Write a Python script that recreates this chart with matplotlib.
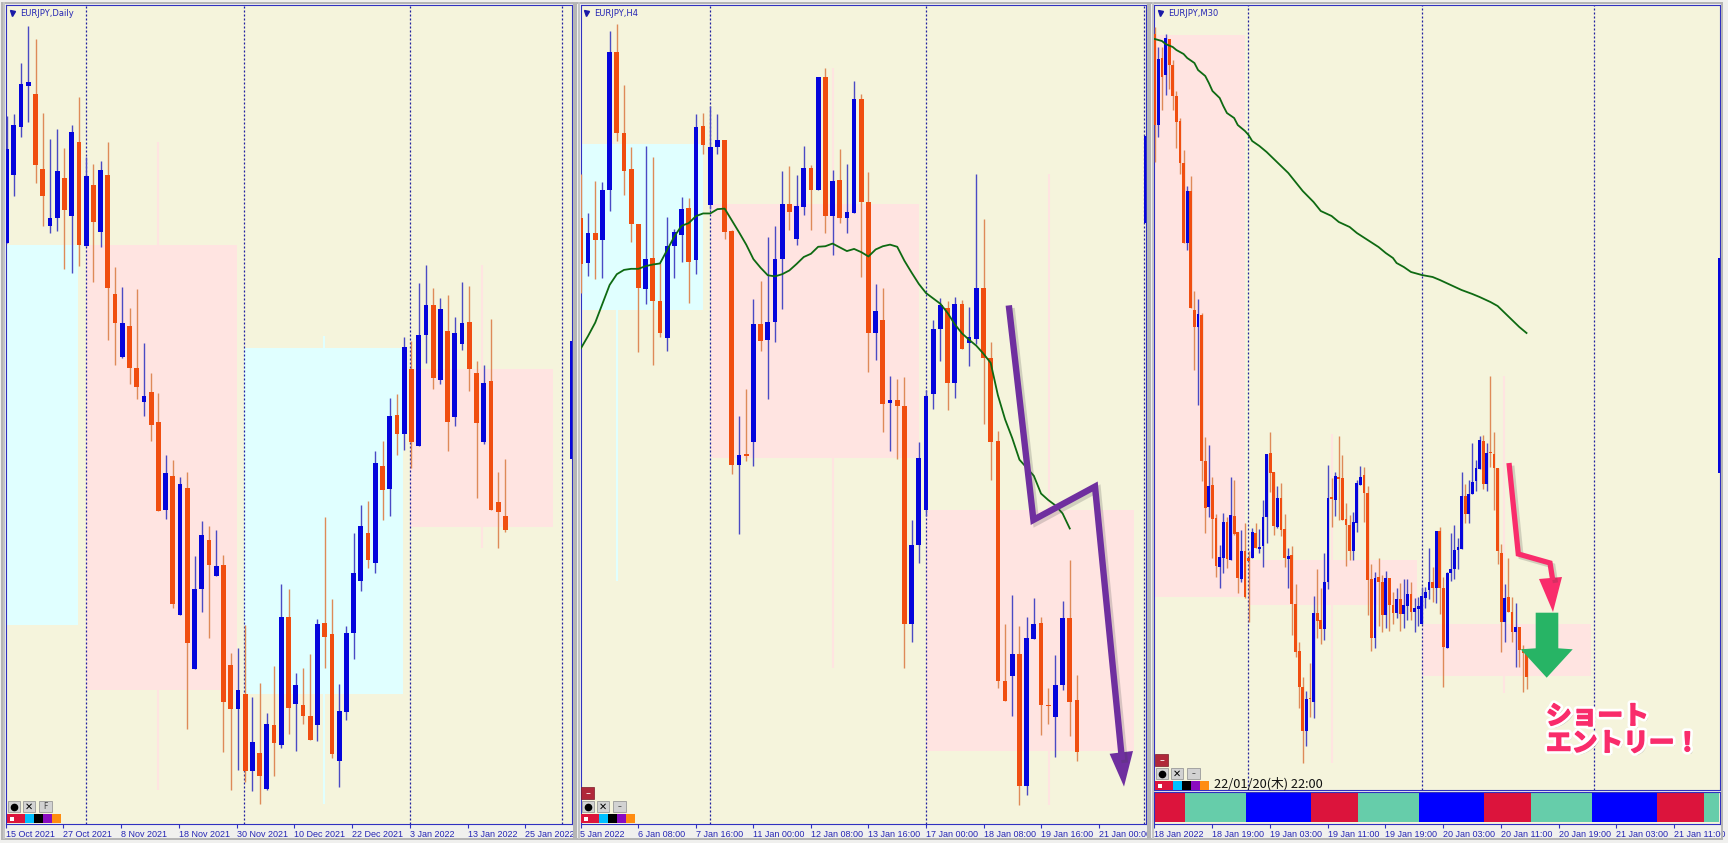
"""EURJPY multi-timeframe chart (Daily / H4 / M30) with short entry markup."""

import matplotlib
matplotlib.use("Agg")
import matplotlib.pyplot as plt
import matplotlib.patheffects as pe
from matplotlib.patches import Rectangle, Polygon

plt.rcParams['font.family'] = ['DejaVu Sans', 'Noto Sans CJK JP']

W, H = 1728, 843

# ── Daily ─────────────────────────────────────────────
d_open = [452, 326, 237, 160, 175, 314, 420, 406, 332, 402, 264, 458, 344, 432, 325, 546, 664, 606, 684, 748,
          730, 785, 949, 885, 1143, 908, 1244, 1096, 1004, 1071, 1051, 1237, 1319, 1291, 1434, 1400, 1468, 1349, 1386, 1147,
          1310, 1312, 1331, 1349, 1159, 1180, 1415, 1325, 1177, 1081, 991, 1047, 867, 910, 772, 808, 686, 830, 624, 568,
          707, 615, 775, 639, 598, 693, 823, 709, 933, 960]
d_close = [277, 233, 157, 153, 306, 365, 405, 318, 390, 245, 455, 327, 413, 316, 536, 601, 600, 685, 720, 736,
           790, 950, 880, 1124, 900, 1196, 1095, 996, 1051, 1053, 1305, 1319, 1283, 1434, 1381, 1443, 1347, 1382, 1147, 1317,
           1274, 1332, 1377, 1160, 1185, 1402, 1322, 1177, 1065, 978, 1041, 862, 912, 773, 808, 646, 822, 623, 568, 703,
           574, 785, 620, 600, 687, 787, 712, 948, 953, 985]
d_high = [215, 212, 117, 48, 73, 210, 258, 240, 275, 233, 180, 292, 305, 300, 265, 497, 533, 572, 538, 638,
          693, 731, 847, 856, 887, 877, 1034, 969, 978, 986, 1032, 1214, 1205, 1162, 1296, 1270, 1327, 1238, 1086, 1095,
          1252, 1242, 1216, 1151, 961, 1114, 1273, 1165, 992, 939, 932, 838, 820, 740, 733, 626, 635, 527, 493, 536,
          554, 549, 590, 524, 532, 671, 678, 594, 877, 854]
d_low = [452, 365, 254, 226, 340, 420, 433, 430, 500, 507, 495, 458, 525, 460, 633, 678, 665, 714, 743, 773,
         820, 950, 966, 1130, 1143, 1355, 1244, 1138, 1187, 1071, 1398, 1470, 1433, 1455, 1472, 1495, 1470, 1443, 1392, 1365,
         1396, 1347, 1377, 1379, 1243, 1409, 1464, 1339, 1225, 1100, 1057, 1066, 968, 959, 846, 837, 870, 830, 676, 724,
         714, 838, 792, 651, 727, 927, 825, 948, 1020, 990]
d_labels = ['15 Oct 2021', '27 Oct 2021', '8 Nov 2021', '18 Nov 2021', '30 Nov 2021',
            '10 Dec 2021', '22 Dec 2021', '3 Jan 2022', '13 Jan 2022', '25 Jan 2022']
d_separators = [10.96, 32.87, 55.8, 76.75]
# colour, first bar, last bar, top, bottom, x of the faint mid line, wick top, wick bottom
d_zones = [('c', -0.15, 9.93, 455, 1163, None, 0, 0),
           ('p', 11.0, 31.85, 456, 1283, 20.94, 265, 1470),
           ('c', 32.87, 54.8, 647, 1290, 43.9, 625, 1495),
           ('p', 55.8, 75.6, 686, 981, 65.8, 492, 1020)]

# ── H4 ────────────────────────────────────────────────
h_open = [405, 490, 433, 446, 354, 96, 247, 315, 417, 538, 479, 559, 629, 458, 438, 387, 484, 234, 382, 274,
          261, 430, 865, 845, 822, 603, 632, 599, 482, 380, 444, 385, 312, 354, 144, 402, 334, 406, 396, 184,
          376, 619, 596, 750, 744, 755, 1160, 1013, 949, 732, 612, 572, 712, 566, 638, 630, 535, 665, 820, 1267,
          1258, 1217, 1462, 1188, 1158, 1311, 1334, 1274, 1150, 1302]
h_close = [491, 433, 446, 353, 96, 247, 318, 417, 536, 481, 560, 619, 458, 432, 388, 487, 236, 270, 273, 261,
           432, 865, 846, 848, 603, 634, 598, 481, 380, 394, 384, 312, 354, 144, 402, 337, 405, 394, 184, 376,
           619, 579, 751, 744, 755, 1160, 1013, 852, 736, 611, 568, 712, 565, 649, 626, 536, 665, 822, 1267, 1304,
           1217, 1462, 1186, 1160, 1311, 1314, 1274, 1150, 1305, 1398]
h_high = [323, 396, 337, 338, 58, 45, 158, 273, 417, 272, 292, 490, 404, 425, 366, 368, 212, 211, 198, 212,
          261, 427, 773, 724, 557, 523, 440, 421, 318, 308, 325, 271, 306, 144, 127, 316, 278, 305, 151, 174,
          320, 529, 535, 700, 705, 701, 968, 822, 725, 596, 555, 560, 553, 558, 571, 323, 408, 636, 802, 1161,
          1106, 1165, 1147, 1112, 1148, 1280, 1218, 1118, 1042, 1255]
h_low = [545, 513, 518, 517, 393, 263, 362, 450, 655, 566, 679, 627, 652, 517, 488, 564, 509, 286, 388, 287,
         444, 881, 993, 858, 866, 653, 743, 637, 574, 428, 455, 400, 428, 354, 433, 474, 414, 434, 396, 516,
         691, 670, 803, 838, 853, 1242, 1195, 1047, 960, 760, 672, 762, 741, 649, 681, 640, 789, 892, 1280, 1304,
         1332, 1498, 1479, 1188, 1367, 1346, 1408, 1283, 1369, 1415]
h_ma = [648, 625, 600, 565, 530, 510, 502, 500, 500, 495, 492, 490, 465, 440, 420, 415, 402, 397, 397, 389,
        388, 410, 432, 455, 482, 498, 512, 514, 510, 503, 491, 478, 472, 459, 458, 453, 460, 467, 463, 469,
        477, 464, 458, 455, 459, 485, 507, 528, 545, 555, 565, 582, 603, 620, 632, 643, 658, 675, 735, 780,
        815, 855, 870, 885, 918, 930, 940, 955, 983]
h_labels = ['5 Jan 2022', '6 Jan 08:00', '7 Jan 16:00', '11 Jan 00:00', '12 Jan 08:00',
            '13 Jan 16:00', '17 Jan 00:00', '18 Jan 08:00', '19 Jan 16:00', '21 Jan 00:00']
h_separators = [18.0, 48.06, 78.27]
h_zones = [('c', -0.05, 17.04, 267, 577, 5.0, 577, 1080),
           ('p', 18.06, 47.0, 380, 852, 35.05, 127, 1242),
           ('p', 48.06, 77.0, 948, 1397, 65.1, 323, 1498)]

# ── M30 (levels here are picture rows) ────────────────
m_open = [34, 125, 58, 75, 39, 65, 96, 121, 163, 243, 191, 310, 327, 315, 461, 507, 485, 518, 567, 558,
          522, 560, 516, 532, 579, 551, 558, 558, 533, 549, 546, 517, 453, 472, 527, 498, 529, 559, 555, 604,
          651, 687, 731, 698, 702, 613, 620, 629, 582, 497, 500, 477, 478, 519, 525, 551, 523, 485, 475, 493,
          579, 638, 577, 582, 615, 578, 605, 613, 599, 614, 606, 594, 612, 609, 624, 598, 590, 582, 588, 531,
          588, 648, 573, 569, 550, 549, 496, 514, 494, 481, 469, 441, 484, 452, 454, 468, 553, 622, 597, 612,
          632, 627, 649, 653]
m_close = [125, 59, 77, 38, 65, 96, 122, 163, 243, 191, 308, 327, 314, 461, 508, 486, 519, 566, 557, 522,
           559, 515, 534, 578, 551, 597, 561, 532, 548, 547, 517, 454, 473, 526, 498, 530, 558, 556, 604, 652,
           687, 731, 699, 699, 613, 621, 629, 582, 498, 499, 476, 479, 520, 525, 551, 522, 483, 477, 493, 580,
           638, 578, 582, 615, 578, 605, 613, 599, 614, 605, 594, 612, 608, 606, 596, 592, 582, 588, 531, 588,
           647, 573, 569, 550, 547, 496, 514, 494, 482, 468, 440, 484, 453, 453, 468, 551, 622, 598, 612, 632,
           627, 650, 653, 677]
m_high = [27, 47, 47, 34, 39, 60, 91, 118, 150, 186, 176, 291, 299, 313, 437, 445, 477, 514, 545, 513,
          517, 477, 480, 532, 530, 523, 551, 528, 523, 529, 500, 454, 432, 472, 486, 483, 514, 548, 546, 584,
          642, 677, 691, 663, 596, 569, 588, 553, 465, 478, 472, 436, 455, 503, 515, 512, 480, 466, 467, 486,
          564, 572, 558, 575, 571, 578, 592, 588, 583, 579, 579, 582, 598, 597, 587, 587, 548, 567, 531, 527,
          577, 572, 533, 525, 538, 472, 484, 480, 443, 460, 436, 435, 443, 376, 432, 468, 544, 584, 558, 597,
          603, 627, 645, 652]
m_low = [162, 137, 110, 95, 89, 110, 148, 174, 243, 250, 308, 370, 405, 481, 533, 517, 558, 577, 588, 573,
         568, 560, 535, 593, 582, 598, 622, 558, 548, 553, 567, 543, 492, 535, 528, 536, 567, 588, 635, 657,
         708, 763, 746, 717, 718, 638, 644, 640, 589, 527, 516, 520, 520, 566, 560, 560, 532, 485, 522, 615,
         651, 648, 626, 632, 628, 631, 624, 618, 631, 628, 620, 620, 632, 626, 624, 608, 599, 602, 603, 614,
         687, 648, 581, 579, 569, 549, 523, 523, 494, 491, 469, 489, 491, 467, 510, 564, 652, 642, 612, 642,
         667, 667, 692, 689]
m_ma_bars = [0, 2, 3, 5, 6, 8, 9, 11, 12, 14, 15, 16, 18, 19, 20, 22, 23, 25, 26, 27, 29, 31, 33, 35, 37, 39,
             41, 44, 46, 49, 51, 54, 56, 59, 62, 64, 66, 67, 69, 71, 74, 77, 79, 82, 85, 88, 90, 93, 95, 97, 99, 101, 103]
m_ma = [39, 41, 44, 47, 50, 54, 58, 63, 70, 76, 83, 91, 98, 106, 113, 118, 125, 131, 135, 141, 146, 152, 159, 166,
        173, 182, 191, 202, 211, 216, 222, 227, 233, 240, 247, 253, 258, 263, 267, 272, 275, 277, 280, 285, 290,
        294, 297, 302, 306, 313, 320, 327, 333]
m_labels = ['18 Jan 2022', '18 Jan 19:00', '19 Jan 03:00', '19 Jan 11:00', '19 Jan 19:00',
            '20 Jan 03:00', '20 Jan 11:00', '20 Jan 19:00', '21 Jan 03:00', '21 Jan 11:00']
m_separators = [25.95, 73.95, 121.7]
m_zones = [('p', -0.1, 24.9, 35, 597, None, 0, 0),
           ('p', 25.95, 72.7, 560, 605, 49.0, 434, 763),
           ('p', 73.95, 120.8, 624, 676, 96.8, 376, 693)]
session_edges = [-0.1, 8.3, 25.4, 43.3, 56.3, 73.3, 91.2, 104.2, 121.1, 139.2, 152.2, 156.2]
session_names = ['tokyo', 'london', 'ny', 'tokyo', 'london', 'ny', 'tokyo', 'london', 'ny', 'tokyo', 'london']

SESSION_COLORS = {'tokyo': '#DC143C', 'london': '#66CDAA', 'ny': '#0000FF'}
ZONE_COLORS = {'c': '#E0FFFF', 'p': '#FFE4E1'}
BG = '#F5F4DC'
UP, DOWN = '#0505DC', '#F04E10'
UP_WICK, DOWN_WICK = '#4A4AC4', '#DE8A58'
AXIS_BLUE = '#3030C0'
TEXT_BLUE = '#2626B4'
MA_GREEN = '#0E6A12'
PURPLE = '#6F2F9F'
PINK = '#F92C6B'
GREEN = '#27B465'


def px_axes(fig, x0, y0, x1, y1):
    """axes placed by picture pixels (y down)"""
    return fig.add_axes([x0 / W, 1 - y1 / H, (x1 - x0) / W, (y1 - y0) / H])


def draw_panel(ax, xlim, ylim, opens, closes, highs, lows, zones, separators, body_w):
    ax.set_facecolor(BG)
    ax.set_xlim(*xlim)
    ax.set_ylim(*ylim)
    ax.set_yticks([])
    for spine in ax.spines.values():
        spine.set_color(AXIS_BLUE)
        spine.set_linewidth(0.8)

    for color, x0, x1, top, bottom, mid, wick_top, wick_bottom in zones:
        ax.add_patch(Rectangle((x0, top), x1 - x0, bottom - top, fc=ZONE_COLORS[color], ec='none', zorder=1))
        if mid is not None:
            ax.vlines(mid, wick_top, wick_bottom, color=ZONE_COLORS[color], lw=1.5, zorder=1)

    for x in separators:
        ax.axvline(x, color='#2020A0', lw=0.9, ls=(0, (1.6, 1.6)), zorder=2)

    for i in range(len(opens)):
        is_up = closes[i] < opens[i]
        ax.vlines(i, highs[i], lows[i], color=UP_WICK if is_up else DOWN_WICK, lw=1.0, zorder=3)
        top, bottom = min(opens[i], closes[i]), max(opens[i], closes[i])
        ax.bar(i, bottom - top, bottom=top, width=body_w, color=UP if is_up else DOWN, lw=0, zorder=4)


def set_time_axis(ax, first, step, labels):
    ax.set_xticks([first + step * k for k in range(len(labels))])
    ax.set_xticklabels(labels, ha='left', fontsize=6.5, color=TEXT_BLUE, family='Liberation Sans')
    ax.tick_params(axis='x', length=3, width=0.8, color=AXIS_BLUE, pad=1.5)


def draw_toolbar(ov, x0, bottom, button_text, with_minus):
    """little indicator buttons at the lower left of each chart"""
    swatches = ['#DC143C', '#DC143C', '#00BFFF', '#000000', '#8A0BC0', '#FF8C10']
    for k, c in enumerate(swatches):
        ov.add_patch(Rectangle((x0 + k * 9, bottom - 9), 9, 9, fc=c, ec='none'))
    ov.add_patch(Rectangle((x0 + 3, bottom - 6.5), 4, 4, fc='white', ec='none'))
    for bx, w in ((x0 + 1, 12), (x0 + 16, 12), (x0 + 32, 13)):
        ov.add_patch(Rectangle((bx, bottom - 22), w, 11, fc='#D2D2D2', ec='#9A9A9A', lw=0.6))
    ov.plot([x0 + 7], [bottom - 16], 'o', ms=4.5, color='black')
    ov.text(x0 + 22, bottom - 16.5, '✕', fontsize=7, ha='center', va='center', color='black')
    ov.text(x0 + 38.5, bottom - 16.5, button_text, fontsize=5.5, ha='center', va='center', color='#404040')
    if with_minus:
        ov.add_patch(Rectangle((x0, bottom - 36), 13, 12, fc='#B0283A', ec='#7A1A28', lw=0.5))
        ov.text(x0 + 6.5, bottom - 30, '–', fontsize=7, ha='center', va='center', color='white')


fig = plt.figure(figsize=(W / 100, H / 100), dpi=100, facecolor='#F0F0EE')

# ── panels ────────────────────────────────────────────
ax_d = px_axes(fig, 5.5, 5, 572, 824)
draw_panel(ax_d, (-0.15, 78.2), (1532.6, 9.3), d_open, d_close, d_high, d_low, d_zones, d_separators, 0.66)
set_time_axis(ax_d, -0.15, 7.99, d_labels)
ax_d.bar(78.05, 219, bottom=634, width=0.36, color=UP, lw=0, zorder=4)  # edge marker

ax_h = px_axes(fig, 580.5, 5, 1146, 824)
draw_panel(ax_h, (-0.05, 78.6), (1532.6, 9.3), h_open, h_close, h_high, h_low, h_zones, h_separators, 0.66)
set_time_axis(ax_h, -0.05, 8.01, h_labels)
ax_h.plot(range(len(h_ma)), h_ma, color=MA_GREEN, lw=1.3, zorder=5)
ax_h.bar(78.45, 161, bottom=253, width=0.36, color=UP, lw=0, zorder=4)

ax_m = px_axes(fig, 1154, 5, 1720, 790)
draw_panel(ax_m, (-0.2, 156.6), (790, 5), m_open, m_close, m_high, m_low, m_zones, m_separators, 0.78)
ax_m.set_xticks([])
ax_m.plot(m_ma_bars, m_ma, color=MA_GREEN, lw=1.3, zorder=5)
ax_m.bar(156.4, 215, bottom=258, width=0.7, color=UP, lw=0, zorder=4)

ax_s = px_axes(fig, 1154, 791.5, 1720, 824)
ax_s.set_facecolor(BG)
ax_s.set_xlim(-0.2, 156.6)
ax_s.set_ylim(0, 1)
ax_s.set_yticks([])
for spine in ax_s.spines.values():
    spine.set_color(AXIS_BLUE)
    spine.set_linewidth(0.8)
for k, name in enumerate(session_names):
    ax_s.axvspan(session_edges[k], session_edges[k + 1], ymin=0.06, ymax=0.94,
                 color=SESSION_COLORS[name], lw=0)
set_time_axis(ax_s, -0.1, 16.0, m_labels)

# ── overlay in picture pixels: window frames, toolbars, hand-drawn markup ────
ov = fig.add_axes([0, 0, 1, 1], zorder=10)
ov.set_xlim(0, W)
ov.set_ylim(H, 0)
ov.axis('off')
ov.patch.set_alpha(0)

for x0, x1 in ((1.5, 574), (576, 1148), (1150, 1722)):
    ov.add_patch(Rectangle((x0, 2.5), x1 - x0, 836, fc='none', ec='#B4B4B4', lw=1.4))
    ov.plot([x0 + 2.5, x0 + 2.5], [3, 838], color='#C4C4C4', lw=1.4)

for tx, ty, title in ((20, 13, 'EURJPY,Daily'), (594, 13, 'EURJPY,H4'), (1168, 13, 'EURJPY,M30')):
    ov.plot([tx - 8], [ty], 'v', ms=3.6, color='#1A1AA8')
    ov.text(tx, ty, title, fontsize=6, color=TEXT_BLUE, ha='left', va='center')

draw_toolbar(ov, 7, 823, 'F', False)
draw_toolbar(ov, 581, 823, '–', True)
draw_toolbar(ov, 1155, 790, '–', True)

ov.text(1214, 784, '22/01/20(木) 22:00', fontsize=9.2, color='#111111', ha='left', va='center',
        family=['Noto Sans CJK JP', 'DejaVu Sans'])

# purple scenario arrow on H4
purple_x = [1008.8, 1033.4, 1095, 1122]
purple_y = [305.4, 519.9, 486.6, 760]
shadow = [pe.SimpleLineShadow(offset=(2, -2), alpha=0.2, shadow_color='#404040'), pe.Normal()]
ov.plot(purple_x, purple_y, color=PURPLE, lw=4.6, solid_joinstyle='miter', solid_capstyle='butt',
        path_effects=shadow)
ov.add_patch(Polygon([(1109.6, 753.8), (1133, 751), (1124, 786.6)], fc=PURPLE, ec='none'))

# pink entry arrow and green short arrow on M30
pink_x = [1509, 1518.3, 1550, 1552.7]
pink_y = [463, 554, 563, 580]
ov.plot(pink_x, pink_y, color=PINK, lw=3.8, solid_joinstyle='miter', solid_capstyle='butt',
        path_effects=shadow)
ov.add_patch(Polygon([(1539, 579), (1562, 577), (1553, 612)], fc=PINK, ec='none'))
ov.add_patch(Polygon([(1535.7, 612.7), (1558.3, 612.7), (1558.3, 648.3), (1572.7, 649.3),
                      (1546.7, 677.7), (1520.7, 649.3), (1535.7, 648.3)], fc=GREEN, ec='none'))

ov.text(1546, 730, 'ショート\nエントリー！', fontsize=18.5, fontweight='bold', color=PINK,
        family=['Noto Sans CJK JP', 'DejaVu Sans'], ha='left', va='center', linespacing=1.0,
        path_effects=[pe.withSimplePatchShadow(offset=(2, -2), alpha=0.25, shadow_rgbFace='#404040'),
                      pe.withStroke(linewidth=5, foreground='white'),
                      pe.Stroke(linewidth=1.2, foreground=PINK), pe.Normal()])

fig.savefig('out.png', dpi=100, facecolor=fig.get_facecolor())
